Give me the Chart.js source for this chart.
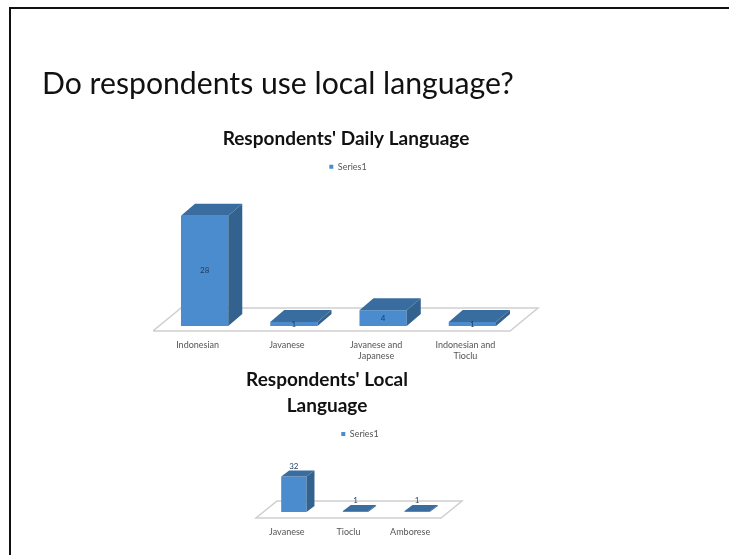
<!DOCTYPE html>
<html>
<head>
<meta charset="utf-8">
<script src="https://cdn.jsdelivr.net/npm/chart.js@4"></script>
<style>
html, body { margin: 0; padding: 0; background: #fff; overflow: hidden; }
#slide { position: absolute; left: 9px; top: 7px; width: 800px; height: 700px; border-left: 2px solid #111; border-top: 2px solid #111; }
h1 { position: absolute; left: 42px; top: 64px; margin: 0; font: 400 30.2px Lato, sans-serif; color: #111; white-space: nowrap; filter: blur(0.4px); }
canvas { position: absolute; filter: blur(0.6px); }
#dailyChart { left: 153px; top: 125px; }
#localChart { left: 236px; top: 365px; }
</style>
</head>
<body>
<div id="slide"></div>
<h1>Do respondents use local language?</h1>
<canvas id="dailyChart" width="390" height="240"></canvas>
<canvas id="localChart" width="248" height="190"></canvas>
<script>
var dailyLabels = ['Indonesian', 'Javanese', ['Javanese and', 'Japanese'], ['Indonesian and', 'Tioclu']];
var dailyValues = [28, 1, 4, 1];
var localLabels = ['Javanese', 'Tioclu', 'Amborese'];
var localValues = [32, 1, 1];

// fake 3D: floor, shifted bars with top and side faces, value labels
var fake3d = {
    id: 'fake3d',
    afterLayout: function(chart, args, o) {
        chart.titleBlock.left += o.titleShift;
        chart.titleBlock.right += o.titleShift;
    },
    beforeDatasetsDraw: function(chart, args, o) {
        var ctx = chart.ctx;
        var a = chart.chartArea;
        var y0 = chart.scales.y.getPixelForValue(0);
        ctx.save();
        ctx.strokeStyle = '#cfcfcf';
        ctx.lineWidth = 1.5;
        ctx.beginPath();
        ctx.moveTo(a.left, y0);
        ctx.lineTo(a.right, y0);
        ctx.lineTo(a.right + o.floorX, y0 - o.floorY);
        ctx.lineTo(a.left + o.floorX, y0 - o.floorY);
        ctx.closePath();
        ctx.stroke();
        ctx.translate(o.shiftX, -o.shiftY);
    },
    afterDatasetsDraw: function(chart, args, o) {
        var ctx = chart.ctx;
        chart.getDatasetMeta(0).data.forEach(function(bar, i) {
            var l = bar.x - bar.width / 2;
            var r = bar.x + bar.width / 2;
            ctx.fillStyle = '#3a6d9f';
            ctx.beginPath();
            ctx.moveTo(l, bar.y);
            ctx.lineTo(l + o.depthX, bar.y - o.depthY);
            ctx.lineTo(r + o.depthX, bar.y - o.depthY);
            ctx.lineTo(r, bar.y);
            ctx.closePath();
            ctx.fill();
            ctx.fillStyle = '#33628f';
            ctx.beginPath();
            ctx.moveTo(r, bar.y);
            ctx.lineTo(r + o.depthX, bar.y - o.depthY);
            ctx.lineTo(r + o.depthX, bar.base - o.depthY);
            ctx.lineTo(r, bar.base);
            ctx.closePath();
            ctx.fill();
            ctx.fillStyle = '#1f3a5f';
            ctx.font = '8px Lato, sans-serif';
            ctx.textAlign = 'center';
            ctx.textBaseline = 'middle';
            var ly = o.labelAbove ? bar.y - o.depthY - 4 : (bar.y + bar.base) / 2;
            ctx.fillText(chart.data.datasets[0].data[i], bar.x, ly);
        });
        ctx.restore();
    }
};

function makeChart(id, labels, values, opt) {
    var ctx = document.getElementById(id).getContext('2d');
    return new Chart(ctx, {
        type: 'bar',
        data: {
            labels: labels,
            datasets: [{
                label: 'Series1',
                data: values,
                backgroundColor: '#4a8ccd',
                barPercentage: 1,
                categoryPercentage: opt.barShare
            }]
        },
        plugins: [fake3d],
        options: {
            responsive: false,
            animation: false,
            layout: { padding: opt.padding },
            scales: {
                x: {
                    border: { display: false },
                    grid: { display: false },
                    ticks: { color: '#555', font: { family: 'Lato', size: 9, lineHeight: 1.3 }, padding: opt.tickPad, maxRotation: 0, autoSkip: false },
                    afterFit: function(scale) { scale.height = opt.axisHeight; }
                },
                y: {
                    position: 'right',
                    min: 0,
                    max: opt.yMax,
                    border: { display: false },
                    grid: { display: false },
                    ticks: { display: false },
                    afterFit: function(scale) { scale.width = opt.rightGap; }
                }
            },
            plugins: {
                title: {
                    display: true,
                    text: opt.title,
                    color: '#111',
                    font: { family: 'Lato', size: 19, weight: 'bold', lineHeight: opt.titleLine },
                    padding: opt.titlePad
                },
                legend: {
                    labels: { boxWidth: 4, boxHeight: 4, padding: 10, color: '#555', font: { family: 'Lato', size: 9 } }
                },
                tooltip: { enabled: false },
                fake3d: opt.fake
            }
        }
    });
}

makeChart('dailyChart', dailyLabels, dailyValues, {
    title: "Respondents' Daily Language",
    titleLine: 1.2,
    titlePad: { top: 2.5, bottom: 2 },
    padding: 0,
    barShare: 0.53,
    tickPad: 0,
    axisHeight: 34,
    rightGap: 33,
    yMax: 38,
    fake: { titleShift: -2, floorX: 28, floorY: 23, shiftX: 7, shiftY: 5, depthX: 14, depthY: 12, labelAbove: false }
});

makeChart('localChart', localLabels, localValues, {
    title: ["Respondents' Local", 'Language'],
    titleLine: 1.37,
    titlePad: { top: 2, bottom: 0.5 },
    padding: { left: 20, right: 20, top: 0, bottom: 0 },
    barShare: 0.41,
    tickPad: 0,
    axisHeight: 37,
    rightGap: 23,
    yMax: 62.7,
    fake: { titleShift: -33, floorX: 21, floorY: 17, shiftX: 7, shiftY: 6, depthX: 8, depthY: 6, labelAbove: true }
});
</script>
</body>
</html>
